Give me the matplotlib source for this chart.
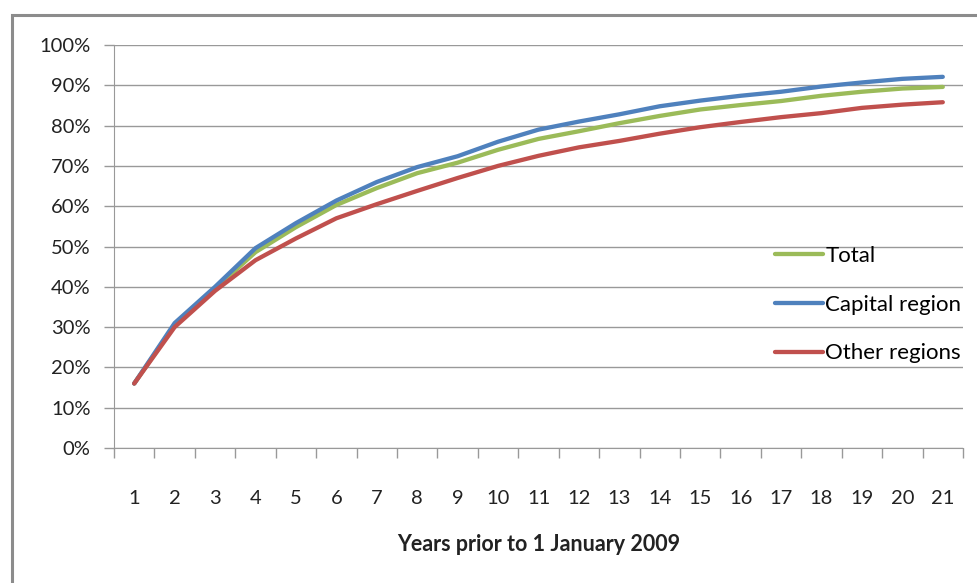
import matplotlib.pyplot as plt
from matplotlib.patches import Rectangle

years = list(range(1, 22))
total = [16.0, 30.5, 39.5, 48.6, 54.8, 60.3, 64.5, 68.2, 70.8, 74.0, 76.7,
         78.6, 80.6, 82.4, 84.0, 85.1, 86.1, 87.4, 88.4, 89.2, 89.6]
capital = [16.0, 31.0, 40.0, 49.6, 55.8, 61.4, 66.0, 69.7, 72.4, 76.0, 79.0,
           81.0, 82.8, 84.8, 86.2, 87.4, 88.4, 89.7, 90.7, 91.6, 92.1]
other = [16.0, 30.0, 39.0, 46.6, 52.0, 57.0, 60.5, 63.8, 67.0, 70.0, 72.5,
         74.6, 76.2, 78.0, 79.6, 80.9, 82.1, 83.1, 84.4, 85.2, 85.8]

plt.rcParams['font.family'] = ['Lato', 'DejaVu Sans']

fig = plt.figure(figsize=(9.78, 5.83), dpi=100)
W, H = 978, 583
ax = fig.add_axes([114 / W, 1 - 448 / H, (963 - 114) / W, (448 - 45) / H])

# outer chart border
fig.patches.append(Rectangle((12 / W, -0.1), 1.1, 1 - 15 / H + 0.1,
                             transform=fig.transFigure, fill=False,
                             edgecolor='#8c8c8c', linewidth=2.2))

ax.plot(years, total, color='#9BBB59', lw=3.1, label='Total', solid_capstyle='round')
ax.plot(years, capital, color='#4F81BD', lw=3.1, label='Capital region', solid_capstyle='round')
ax.plot(years, other, color='#C0504D', lw=3.1, label='Other regions', solid_capstyle='round')

ax.set_xlim(0.5, 21.5)
ax.set_ylim(0, 100)
ax.set_yticks(range(0, 101, 10))
ax.set_yticklabels(['%d%%' % v for v in range(0, 101, 10)], fontsize=14.5, color='#222222')
ax.set_xticks(years)
ax.set_xticklabels([str(y) for y in years], fontsize=14.5, color='#222222')
ax.set_xticks([x + 0.5 for x in range(0, 22)], minor=True)
ax.tick_params(axis='x', which='major', length=0, pad=30)
ax.tick_params(axis='x', which='minor', length=7, color='#999999', width=1)
ax.tick_params(axis='y', length=7, color='#999999', width=1, pad=10)

ax.grid(axis='y', color='#999999', lw=1)
ax.set_axisbelow(True)
for s in ['top', 'right']:
    ax.spines[s].set_visible(False)
ax.spines['left'].set_color('#999999')
ax.spines['bottom'].set_color('#999999')

ax.set_xlabel('Years prior to 1 January 2009', fontsize=15.5, fontweight='bold',
              color='#222222', labelpad=20)

ax.legend(loc='upper left', bbox_to_anchor=(775 / W, 1 - 246 / H),
          bbox_transform=fig.transFigure, frameon=False, fontsize=16,
          handlelength=2.15, handletextpad=0.12, labelspacing=1.29,
          borderpad=0, borderaxespad=0)

fig.savefig('out.png', dpi=100)
